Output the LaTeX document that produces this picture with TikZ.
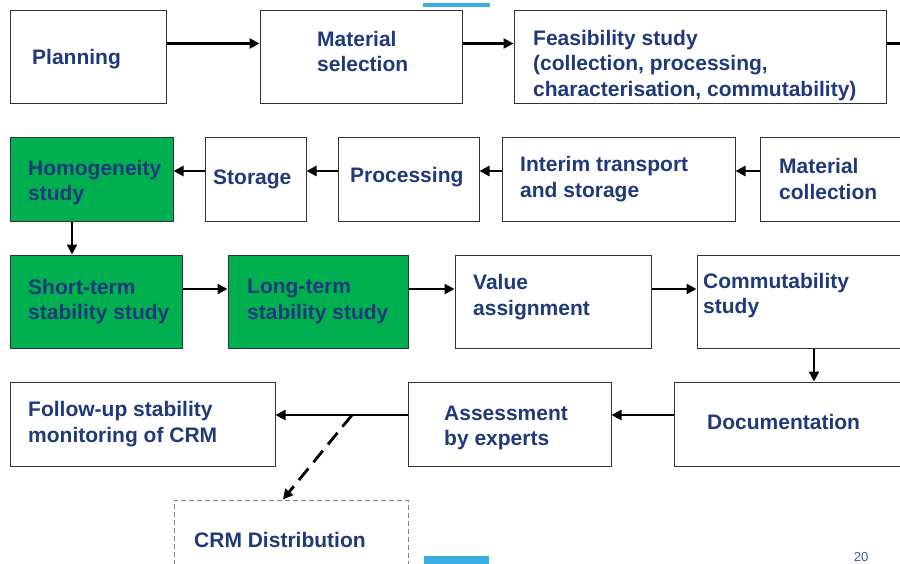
\documentclass[tikz,border=0pt]{standalone}
\usepackage{fontspec}
\setmainfont{Liberation Sans}
\usetikzlibrary{arrows.meta,calc}
\definecolor{txtblue}{HTML}{1F3A7A}
\definecolor{boxgreen}{HTML}{00B050}
\definecolor{barblue}{HTML}{3BAEE3}
\definecolor{pgnum}{HTML}{3A5FA8}
\definecolor{edgegray}{HTML}{333333}
\tikzset{
  stage/.style={draw=edgegray, line width=1pt, rectangle, inner sep=0pt},
  greenstage/.style={stage, fill=boxgreen},
  label/.style={anchor=west, inner sep=0pt, text=txtblue, align=left,
     font=\fontsize{21}{25.5}\selectfont\bfseries},
  flow/.style={line width=2.8pt, -{Triangle[length=10pt,width=10pt]}},
  plainline/.style={line width=2.8pt},
  dashflow/.style={line width=2.8pt, dash pattern=on 15pt off 8pt, -{Triangle[length=10pt,width=10pt]}},
  distbox/.style={draw=gray, line width=1pt, dash pattern=on 5pt off 3pt, rectangle, inner sep=0pt}
}
\begin{document}
\begin{tikzpicture}[x=1pt,y=-1pt]
\useasboundingbox (0,0) rectangle (900,563);
\clip (0,0) rectangle (900,563);
\fill[white] (0,0) rectangle (900,563);
% bars
\fill[barblue] (423,3) rectangle (490,7);
\fill[barblue] (424,556) rectangle (489,565);
\node[anchor=base, inner sep=0pt, text=pgnum, font=\fontsize{13}{15}\selectfont] (pagenum) at (861,561) {20};
% row 1
\node[stage, minimum width=156, minimum height=93] (plan) at (88,56.5) {};
\node[stage, minimum width=202, minimum height=93] (matsel) at (361,56.5) {};
\node[stage, minimum width=372, minimum height=93] (feas) at (700,56.5) {};
% row 2
\node[greenstage, minimum width=163, minimum height=84] (homog) at (91.5,179) {};
\node[stage, minimum width=101, minimum height=84] (stor) at (255.5,179) {};
\node[stage, minimum width=141, minimum height=84] (proc) at (408.5,179) {};
\node[stage, minimum width=233, minimum height=84] (interim) at (618.5,179) {};
\node[stage, minimum width=150, minimum height=84] (matcol) at (835,179) {};
% row 3
\node[greenstage, minimum width=172, minimum height=93] (short) at (96,301.5) {};
\node[greenstage, minimum width=180, minimum height=93] (long) at (318,301.5) {};
\node[stage, minimum width=196, minimum height=93] (value) at (553,301.5) {};
\node[stage, minimum width=213, minimum height=93] (commut) at (803.5,301.5) {};
% row 4
\node[stage, minimum width=265, minimum height=84] (follow) at (142.5,424) {};
\node[stage, minimum width=203, minimum height=84] (assess) at (509.5,424) {};
\node[stage, minimum width=236, minimum height=84] (doc) at (792,424) {};
\node[distbox, minimum width=234, minimum height=80] (dist) at (291,540) {};
% labels
\node[label] (tplan) at (32,59) {Planning};
\node[label] (tmatsel) at (317,51.5) {Material\\selection};
\node[label] (tfeas) at (533,65.5) {Feasibility study\\(collection, processing,\\characterisation, commutability)};
\node[label] (thomog) at (28,182.5) {Homogeneity\\study};
\node[label] (tstor) at (213,179) {Storage};
\node[label] (tproc) at (350,177.5) {Processing};
\node[label] (tinterim) at (520,179) {Interim transport\\and storage};
\node[label] (tmatcol) at (779,179) {Material\\collection};
\node[label] (tshort) at (28,301.5) {Short-term\\stability study};
\node[label] (tlong) at (247,301.5) {Long-term\\stability study};
\node[label] (tvalue) at (473,297) {Value\\assignment};
\node[label] (tcommut) at (703,295.5) {Commutability\\study};
\node[label] (tfollow) at (28,424) {Follow-up stability\\monitoring of CRM};
\node[label] (tassess) at (444,428) {Assessment\\by experts};
\node[label] (tdoc) at (707,421.5) {Documentation};
\node[label] (tdist) at (194,539.5) {CRM Distribution};
% connectors
\coordinate (offright) at (905,43.5);
\coordinate (split) at (352,415);
\draw[flow] ([yshift=13pt]plan.east) -- ([yshift=13pt]matsel.west);
\draw[flow] ([yshift=13pt]matsel.east) -- ([yshift=13pt]feas.west);
\draw[plainline] ([yshift=13pt]feas.east) -- (offright);
\draw[flow] ([yshift=8pt]matcol.west) -- ([yshift=8pt]interim.east);
\draw[flow] ([yshift=8pt]interim.west) -- ([yshift=8pt]proc.east);
\draw[flow] ([yshift=8pt]proc.west) -- ([yshift=8pt]stor.east);
\draw[flow] ([yshift=8pt]stor.west) -- ([yshift=8pt]homog.east);
\draw[flow] ([xshift=-19.5pt]homog.south) -- ([xshift=-19.5pt]homog.south |- short.north);
\draw[flow] ([yshift=12.5pt]short.east) -- ([yshift=12.5pt]long.west);
\draw[flow] ([yshift=12.5pt]long.east) -- ([yshift=12.5pt]value.west);
\draw[flow] ([yshift=12.5pt]value.east) -- ([yshift=12.5pt]commut.west);
\draw[flow] ([xshift=10.5pt]commut.south) -- ([xshift=10.5pt]commut.south |- doc.north);
\draw[flow] ([yshift=9pt]doc.west) -- ([yshift=9pt]assess.east);
\draw[flow] ([yshift=9pt]assess.west) -- ([yshift=9pt]follow.east);
\draw[dashflow] (split) -- ([xshift=-8pt]dist.north);
\end{tikzpicture}
\end{document}
